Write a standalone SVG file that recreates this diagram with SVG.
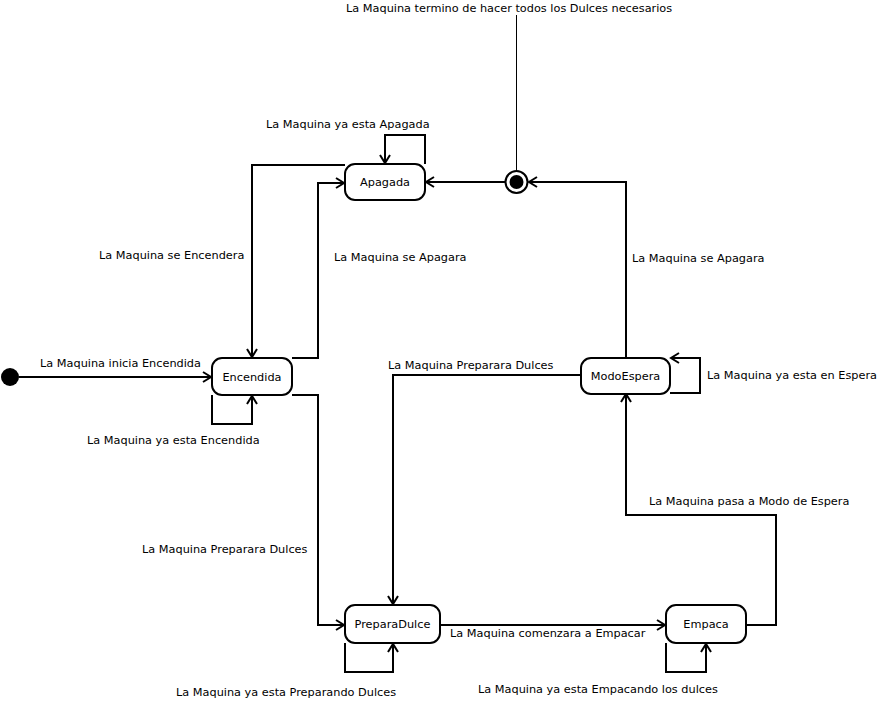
<svg xmlns="http://www.w3.org/2000/svg" width="878" height="701" viewBox="0 0 878 701">
  <style>
    .node { fill: #ffffff; stroke: #000000; stroke-width: 2; }
    .label { font-family: "DejaVu Sans", Tahoma, sans-serif; font-size: 11.3px; fill: #000000; }
    .name { font-family: "DejaVu Sans", Tahoma, sans-serif; font-size: 11.3px; fill: #000000; text-anchor: middle; }
    .edge { fill: none; stroke: #000000; stroke-width: 2; marker-end: url(#arrow); }
  </style>
  <defs>
    <marker id="arrow" viewBox="-10 -7 12 14" refX="0" refY="0" markerWidth="12" markerHeight="14" markerUnits="userSpaceOnUse" orient="auto">
      <path d="M -8 -5 L 0 0 L -8 5" fill="none" stroke="#000000" stroke-width="2"/>
    </marker>
  </defs>
  <rect width="878" height="701" fill="#ffffff"/>

  <g id="connectors">
    <path class="edge" d="M19 377 H211"/>
    <path class="edge" d="M212 395 V424 H252 V396"/>
    <path class="edge" d="M345 165 H252 V357"/>
    <path class="edge" d="M292 358 H318 V183 H344"/>
    <path class="edge" d="M425 164 V135 H385 V163"/>
    <path class="edge" d="M505 182 H426"/>
    <path class="edge" d="M626 358 V182 H529"/>
    <path fill="none" stroke="#000000" stroke-width="1" d="M516.5 15 V171"/>
    <path class="edge" d="M292 395 H318 V625 H344"/>
    <path class="edge" d="M581 375 H393 V604"/>
    <path class="edge" d="M345 643 V672 H393 V644"/>
    <path class="edge" d="M440 625 H665"/>
    <path class="edge" d="M666 643 V672 H706 V644"/>
    <path class="edge" d="M746 625 H776 V515 H626 V394"/>
    <path class="edge" d="M670 393 H700 V358 H671"/>
  </g>

  <g id="labels">
    <text class="label" x="346" y="12">La Maquina termino de hacer todos los Dulces necesarios</text>
    <text class="label" x="266" y="128">La Maquina ya esta Apagada</text>
    <text class="label" x="99" y="259">La Maquina se Encendera</text>
    <text class="label" x="334" y="261">La Maquina se Apagara</text>
    <text class="label" x="632" y="262">La Maquina se Apagara</text>
    <text class="label" x="40" y="367">La Maquina inicia Encendida</text>
    <text class="label" x="87" y="444">La Maquina ya esta Encendida</text>
    <text class="label" x="388" y="369">La Maquina Preparara Dulces</text>
    <text class="label" x="707" y="379">La Maquina ya esta en Espera</text>
    <text class="label" x="649" y="505">La Maquina pasa a Modo de Espera</text>
    <text class="label" x="142" y="553">La Maquina Preparara Dulces</text>
    <text class="label" x="450" y="637">La Maquina comenzara a Empacar</text>
    <text class="label" x="176" y="696">La Maquina ya esta Preparando Dulces</text>
    <text class="label" x="478" y="693">La Maquina ya esta Empacando los dulces</text>
  </g>

  <g id="initial">
    <circle cx="10" cy="377" r="9" fill="#000000"/>
  </g>

  <g id="final">
    <circle cx="516.5" cy="182" r="11" fill="#ffffff" stroke="#000000" stroke-width="2"/>
    <circle cx="516.5" cy="182" r="7" fill="#000000"/>
  </g>

  <g id="apagada">
    <rect class="node" x="345" y="164" width="80" height="36" rx="10"/>
    <text class="name" x="385" y="186">Apagada</text>
  </g>

  <g id="encendida">
    <rect class="node" x="212" y="358" width="80" height="37" rx="10"/>
    <text class="name" x="252" y="381">Encendida</text>
  </g>

  <g id="modoespera">
    <rect class="node" x="581" y="358" width="89" height="36" rx="10"/>
    <text class="name" x="625.5" y="380">ModoEspera</text>
  </g>

  <g id="preparadulce">
    <rect class="node" x="345" y="605" width="95" height="38" rx="10"/>
    <text class="name" x="392.5" y="628">PreparaDulce</text>
  </g>

  <g id="empaca">
    <rect class="node" x="666" y="605" width="80" height="38" rx="10"/>
    <text class="name" x="706" y="628">Empaca</text>
  </g>
</svg>
